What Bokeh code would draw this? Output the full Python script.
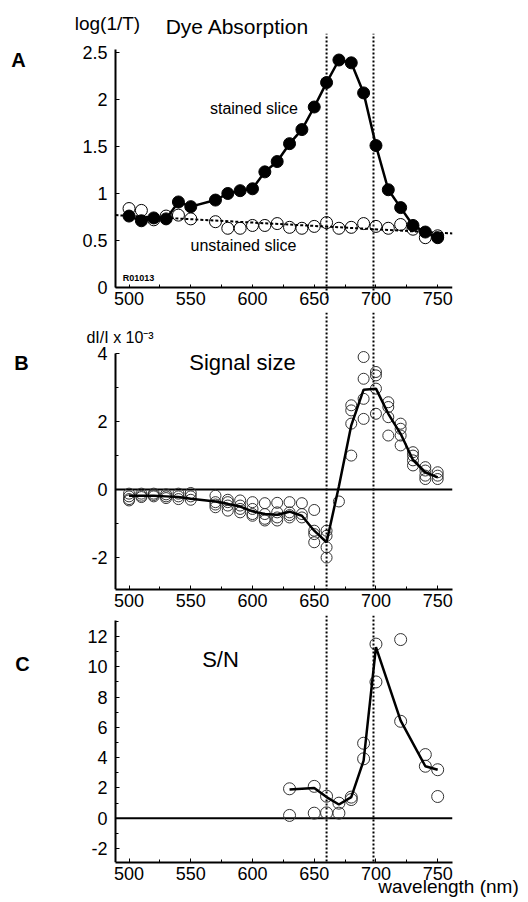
from bokeh.plotting import figure
from bokeh.models import Range1d, Span, Label, FixedTicker, LinearAxis
from bokeh.layouts import column, row
from bokeh.embed import file_html
from bokeh.resources import INLINE

# ---------------- data ----------------
# Panel A: dye absorption
wl_stained = [500, 510, 520, 530, 540, 550, 570, 580, 590, 600, 610, 620, 630,
              640, 650, 660, 670, 680, 690, 700, 710, 720, 730, 740, 750]
abs_stained = [0.76, 0.71, 0.74, 0.73, 0.91, 0.86, 0.93, 1.00, 1.03, 1.05, 1.23,
               1.34, 1.53, 1.68, 1.92, 2.18, 2.42, 2.39, 2.07, 1.51, 1.04, 0.85,
               0.66, 0.59, 0.53]
wl_unstained = [500, 510, 520, 530, 540, 550, 570, 580, 590, 600, 610, 620, 630,
                640, 650, 660, 670, 680, 690, 700, 710, 720, 730, 740, 750]
abs_unstained = [0.84, 0.82, 0.72, 0.76, 0.77, 0.73, 0.70, 0.63, 0.63, 0.66, 0.66,
                 0.68, 0.64, 0.63, 0.65, 0.69, 0.63, 0.64, 0.68, 0.65, 0.63, 0.67,
                 0.62, 0.53, 0.55]
fit_wl = [489, 762]
fit_abs = [0.77, 0.575]

# Panel B: signal size (individual trials and mean)
sig_pts_wl = ([500] * 4 + [510] * 3 + [520] * 3 + [530] * 3 + [540] * 3 + [550] * 3 +
              [570] * 4 + [580] * 4 + [590] * 4 + [600] * 4 + [610] * 4 + [620] * 4 +
              [630] * 4 + [640] * 3 + [650] * 4 + [660] * 4 + [670] * 1 + [680] * 4 +
              [690] * 4 + [700] * 4 + [710] * 4 + [720] * 4 + [730] * 4 + [740] * 4 +
              [750] * 3)
sig_pts_val = [-0.12, -0.20, -0.28, -0.32,
               -0.12, -0.18, -0.22,
               -0.12, -0.16, -0.20,
               -0.14, -0.20, -0.25,
               -0.12, -0.20, -0.28,
               -0.10, -0.20, -0.30,
               -0.18, -0.37, -0.44, -0.52,
               -0.30, -0.37, -0.47, -0.62,
               -0.32, -0.47, -0.57, -0.67,
               -0.37, -0.57, -0.72, -0.77,
               -0.40, -0.72, -0.86, -0.91,
               -0.39, -0.67, -0.82, -0.91,
               -0.37, -0.67, -0.75, -0.82,
               -0.40, -0.72, -0.82,
               -0.60, -1.21, -1.31, -1.55,
               -1.21, -1.36, -1.70, -2.00,
               -0.35,
               2.48, 2.33, 1.94, 1.00,
               3.90, 3.26, 2.67, 2.08,
               3.46, 3.36, 2.97, 2.23,
               2.57, 2.43, 2.13, 1.59,
               1.94, 1.79, 1.59, 1.30,
               1.10, 1.00, 0.86, 0.71,
               0.66, 0.56, 0.41, 0.31,
               0.51, 0.41, 0.31]
sig_mean_wl = [500, 510, 520, 530, 540, 550, 570, 580, 590, 600, 610, 620, 630,
               640, 650, 660, 670, 680, 690, 700, 710, 720, 730, 740, 750]
sig_mean_val = [-0.18, -0.18, -0.18, -0.20, -0.22, -0.27, -0.35, -0.42, -0.50,
                -0.64, -0.72, -0.74, -0.65, -0.77, -1.21, -1.55, 0.10, 1.89, 2.94,
                2.97, 2.23, 1.64, 0.87, 0.51, 0.36]

# Panel C: signal-to-noise
sn_pts_wl = [630, 630, 650, 650, 660, 660, 670, 670, 680, 680, 690, 690,
             700, 700, 720, 720, 740, 740, 750, 750]
sn_pts_val = [1.94, 0.18, 2.10, 0.33, 1.45, 0.35, 0.99, 0.33, 1.39, 1.23, 4.95,
              3.92, 11.5, 9.0, 11.8, 6.4, 4.2, 3.43, 3.2, 1.43]
sn_mean_wl = [630, 650, 660, 670, 680, 690, 700, 720, 740, 750]
sn_mean_val = [1.89, 2.0, 1.39, 0.9, 1.39, 3.8, 11.3, 6.45, 3.43, 3.2]

# reference wavelengths (dotted verticals)
marker_wl = [660, 698]

# ticks
x_ticks = [500, 550, 600, 650, 700, 750]
x_minor = [525, 575, 625, 675, 725]
a_ticks = [0, 0.5, 1, 1.5, 2, 2.5]
a_labels = ["0", "0.5", "1", "1.5", "2", "2.5"]
b_ticks = [-2, 0, 2, 4]
b_labels = ["-2", "0", "2", "4"]
b_minor = [-3, -1, 1, 3]
c_ticks = [-2, 0, 2, 4, 6, 8, 10, 12]
c_labels = ["-2", "0", "2", "4", "6", "8", "10", "12"]
c_minor = [-1, 1, 3, 5, 7, 9, 11, 13]

FONT = "Liberation Sans"
X_AXIS = (489, 762)          # extent of the drawn wavelength axis
X_VIEW = (454.2, 762)        # visible span (room on the left for the y-axis texts)


def style_axis(ax):
    ax.axis_line_width = 2
    ax.axis_line_color = "black"
    ax.major_tick_in = 4
    ax.major_tick_out = 0
    ax.minor_tick_in = 3
    ax.minor_tick_out = 0
    ax.major_tick_line_color = "black"
    ax.minor_tick_line_color = "black"
    ax.major_label_text_font = FONT
    ax.major_label_text_font_size = "18px"
    ax.major_label_text_color = "black"


def make_fig(frame_h, y_range, border_bottom):
    p = figure(frame_width=380, frame_height=frame_h,
               x_range=Range1d(*X_VIEW), y_range=Range1d(*y_range),
               output_backend="svg", toolbar_location=None,
               min_border_left=42, min_border_right=68,
               min_border_top=0, min_border_bottom=border_bottom)
    p.outline_line_color = None
    p.grid.visible = False
    p.background_fill_color = "white"
    p.border_fill_color = "white"
    style_axis(p.xaxis[0])
    style_axis(p.yaxis[0])
    p.xaxis[0].major_label_standoff = 4
    p.xaxis[0].bounds = X_AXIS
    p.xaxis[0].ticker = FixedTicker(ticks=x_ticks, minor_ticks=x_minor)
    p.yaxis[0].major_label_standoff = 8
    p.yaxis[0].fixed_location = X_AXIS[0]
    return p


def vlines(p):
    for m in marker_wl:
        p.add_layout(Span(location=m, dimension="height", line_color="black",
                          line_width=2, line_dash="2 2"))


def zero_line(p):
    p.line(x=list(X_AXIS), y=[0, 0], line_color="black", line_width=2)


def label(p, x, y, txt, size, align="center", bold=False):
    p.add_layout(Label(x=x, y=y, text=txt, text_font=FONT,
                       text_font_size=size, text_align=align,
                       text_baseline="middle", text_color="black",
                       text_font_style="bold" if bold else "normal"))


# ---------------- Panel A ----------------
pA = make_fig(298, (-0.117, 3.053), 14)
pA.yaxis[0].ticker = FixedTicker(ticks=a_ticks, minor_ticks=[])
pA.yaxis[0].major_label_overrides = dict(zip(a_ticks, a_labels))
pA.yaxis[0].bounds = (0, 2.53)
# tick labels on the bordering axis; the axis line with its ticks sits at y = 0
xa_labels = pA.xaxis[0]
xa_labels.axis_line_color = None
xa_labels.major_tick_line_color = None
xa_labels.minor_tick_line_color = None
xa_labels.major_label_standoff = -7
xa_line = LinearAxis(fixed_location=0, bounds=X_AXIS,
                     ticker=FixedTicker(ticks=[], minor_ticks=x_ticks + x_minor))
style_axis(xa_line)
xa_line.major_label_standoff = 0
pA.add_layout(xa_line, "below")
pA.segment(x0=marker_wl, y0=-0.117, x1=marker_wl, y1=2.70, line_color="black",
           line_width=2, line_dash="2 2")
pA.scatter(wl_unstained, abs_unstained, size=12, marker="circle",
           fill_color=None, line_color="black", line_width=1)
pA.line(fit_wl, fit_abs, line_color="black", line_width=2, line_dash="3 2")
pA.line(wl_stained, abs_stained, line_color="black", line_width=2.5)
pA.scatter(wl_stained, abs_stained, size=12, marker="circle",
           fill_color="black", line_color="black")
label(pA, 482.5, 2.809, "log(1/T)", "19px")
label(pA, 587.8, 2.777, "Dye Absorption", "21px")
label(pA, 601.2, 1.904, "stained slice", "16px")
label(pA, 592.7, 0.447, "unstained slice", "16px")
label(pA, 507.6, 0.106, "R01013", "9px", bold=True)

# ---------------- Panel B ----------------
pB = make_fig(277, (-2.94, 5.21), 26)
pB.yaxis[0].ticker = FixedTicker(ticks=b_ticks, minor_ticks=b_minor)
pB.yaxis[0].major_label_overrides = dict(zip(b_ticks, b_labels))
pB.yaxis[0].bounds = (-3, 4)
vlines(pB)
zero_line(pB)
pB.scatter(sig_pts_wl, sig_pts_val, size=11, marker="circle", fill_color=None,
           line_color="#333333", line_width=1)
pB.line(sig_mean_wl, sig_mean_val, line_color="black", line_width=2.5)
label(pB, 465.5, 4.47, "dI/I x 10\u207B\u00B3", "16px", align="left")
label(pB, 591.9, 3.735, "Signal size", "22px")

# ---------------- Panel C ----------------
pC = make_fig(247, (-2.93, 13.39), 32)
pC.yaxis[0].ticker = FixedTicker(ticks=c_ticks, minor_ticks=c_minor)
pC.yaxis[0].major_label_overrides = dict(zip(c_ticks, c_labels))
pC.yaxis[0].bounds = (-3, 13.06)
vlines(pC)
zero_line(pC)
pC.scatter(sn_pts_wl, sn_pts_val, size=12, marker="circle", fill_color=None,
           line_color="#333333", line_width=1)
pC.line(sn_mean_wl, sn_mean_val, line_color="black", line_width=2.5)
label(pC, 574.1, 10.49, "S/N", "22px")
wl_axis = LinearAxis(ticker=FixedTicker(ticks=[758.8], minor_ticks=[]),
                     major_label_overrides={758.8: "wavelength (nm)"},
                     axis_line_color=None, major_tick_line_color=None,
                     minor_tick_line_color=None,
                     major_label_text_font=FONT, major_label_text_font_size="19px",
                     major_label_text_color="black", major_label_standoff=-13)
pC.add_layout(wl_axis, "below")

# ---------------- panel letters (left strip) ----------------
pL = figure(width=30, height=894, x_range=Range1d(0, 30), y_range=Range1d(894, 0),
            x_axis_type=None, y_axis_type=None, output_backend="svg",
            toolbar_location=None, min_border=0)
pL.outline_line_color = None
pL.grid.visible = False
for txt, lx, ly in (("A", 18, 59), ("B", 21, 362), ("C", 22, 663)):
    label(pL, lx, ly, txt, "20px", bold=True)

layout = row(pL, column(pA, pB, pC, spacing=0), spacing=0)
open("out.html", "w").write(file_html(layout, INLINE))
